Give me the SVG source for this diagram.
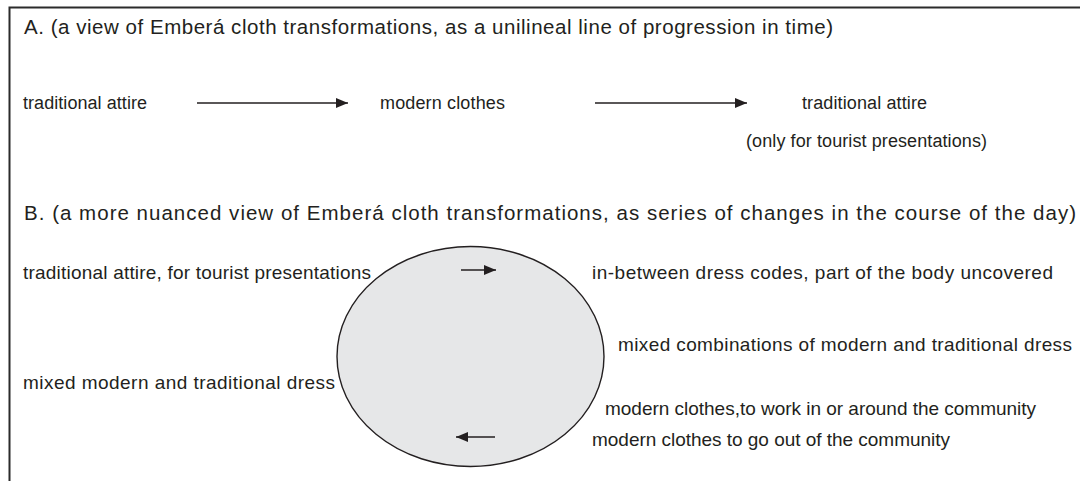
<svg xmlns="http://www.w3.org/2000/svg" width="1080" height="481" viewBox="0 0 1080 481">
<style>
text{font-family:"Liberation Sans",Arial,sans-serif;font-size:18px;fill:#231f20}
.t{font-size:20.5px}
.b{font-size:19px}
.frame{fill:none;stroke:#2b2b2b;stroke-width:2}
.conn{stroke:#231f20;stroke-width:1.6;fill:none}
</style>
<defs>
<marker id="ah" viewBox="0 0 12 10" refX="12" refY="5" markerWidth="13" markerHeight="10" markerUnits="userSpaceOnUse" orient="auto">
<path d="M0,0 L12,5 L0,10 Z" fill="#231f20"/>
</marker>
<marker id="ahs" viewBox="0 0 12 10" refX="12" refY="5" markerWidth="12" markerHeight="10" markerUnits="userSpaceOnUse" orient="auto">
<path d="M0,0 L12,5 L0,10 Z" fill="#231f20"/>
</marker>
</defs>
<rect width="1080" height="481" fill="#fff"/>
<path class="frame" d="M9.5,490 V7.5 H1090"/>
<g id="title-a"><text class="t" x="24" y="34" textLength="809" lengthAdjust="spacing">A. (a view of Emberá cloth transformations, as a unilineal line of progression in time)</text></g>
<g id="a-trad"><text x="23" y="109" textLength="124" lengthAdjust="spacing">traditional attire</text></g>
<g id="a-modern"><text x="380" y="109" textLength="125" lengthAdjust="spacing">modern clothes</text></g>
<g id="a-trad2"><text x="802" y="109" textLength="125" lengthAdjust="spacing">traditional attire</text><text x="746" y="147" textLength="241" lengthAdjust="spacing">(only for tourist presentations)</text></g>
<g id="title-b"><text class="t" x="24" y="220" textLength="1052" lengthAdjust="spacing">B. (a more nuanced view of Emberá cloth transformations, as series of changes in the course of the day)</text></g>
<g id="cycle"><ellipse cx="470.5" cy="356.5" rx="133.5" ry="110" fill="#e6e7e8" stroke="#231f20" stroke-width="1.4"/></g>
<g id="b-trad"><text class="b" x="23" y="279" textLength="348" lengthAdjust="spacing">traditional attire, for tourist presentations</text></g>
<g id="b-between"><text class="b" x="592" y="279" textLength="461" lengthAdjust="spacing">in-between dress codes, part of the body uncovered</text></g>
<g id="b-mixedcomb"><text class="b" x="618" y="351" textLength="454" lengthAdjust="spacing">mixed combinations of modern and traditional dress</text></g>
<g id="b-mixed"><text class="b" x="23" y="389" textLength="312" lengthAdjust="spacing">mixed modern and traditional dress</text></g>
<g id="b-work"><text class="b" x="605" y="415" textLength="431" lengthAdjust="spacing">modern clothes,to work in or around the community</text></g>
<g id="b-out"><text class="b" x="592" y="446" textLength="358" lengthAdjust="spacing">modern clothes to go out of the community</text></g>
<g id="connectors">
<line class="conn" x1="197" y1="103" x2="348" y2="103" marker-end="url(#ah)"/>
<line class="conn" x1="595" y1="103" x2="747" y2="103" marker-end="url(#ah)"/>
<line class="conn" x1="461" y1="270" x2="496" y2="270" marker-end="url(#ahs)"/>
<line class="conn" x1="495" y1="437" x2="456" y2="437" marker-end="url(#ahs)"/>
</g>
</svg>
